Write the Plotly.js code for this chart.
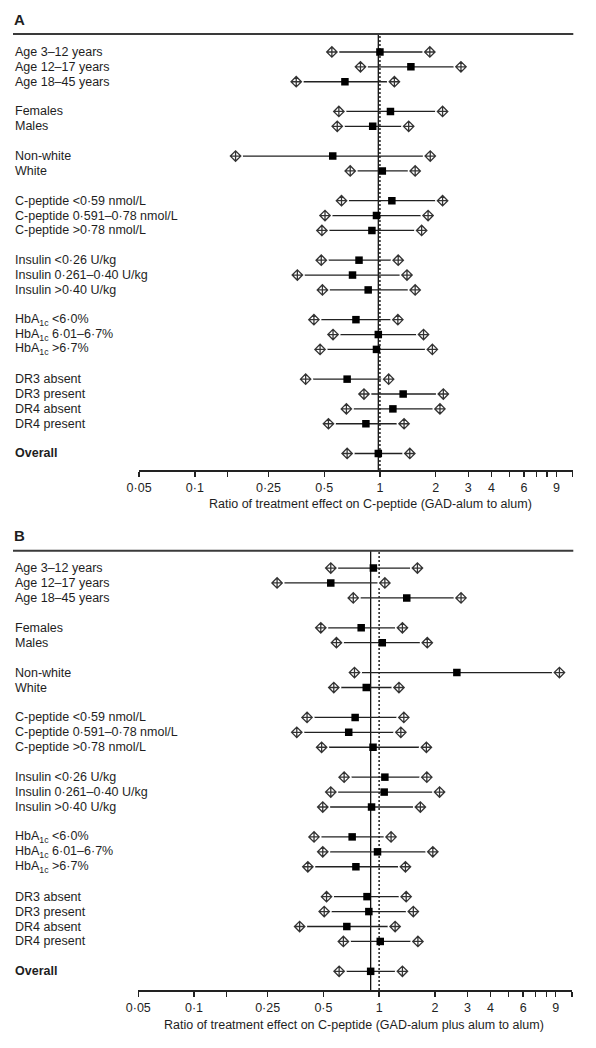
<!DOCTYPE html>
<html>
<head>
<meta charset="utf-8">
<script src="https://cdn.plot.ly/plotly-3.0.1.min.js"></script>
<style>
  html, body { margin: 0; padding: 0; background: #fff; }
  #chart { width: 596px; height: 1048px; }
</style>
</head>
<body>
<div id="chart"></div>
<script>
// ---------- data ----------
const ROW_LABELS = [
  'Age 3–12 years', 'Age 12–17 years', 'Age 18–45 years', '',
  'Females', 'Males', '',
  'Non-white', 'White', '',
  'C-peptide &lt;0·59 nmol/L', 'C-peptide 0·591–0·78 nmol/L', 'C-peptide &gt;0·78 nmol/L', '',
  'Insulin &lt;0·26 U/kg', 'Insulin 0·261–0·40 U/kg', 'Insulin &gt;0·40 U/kg', '',
  'HbA<sub>1c</sub> &lt;6·0%', 'HbA<sub>1c</sub> 6·01–6·7%', 'HbA<sub>1c</sub> &gt;6·7%', '',
  'DR3 absent', 'DR3 present', 'DR4 absent', 'DR4 present', '',
  '<b>Overall</b>'
];

// Panel A: GAD-alum vs alum
const A_EST = [1.00, 1.47, 0.647, null, 1.14, 0.914, null, 0.556, 1.03, null,
  1.16, 0.958, 0.905, null, 0.771, 0.711, 0.864, null, 0.742, 0.98, 0.958, null,
  0.665, 1.335, 1.175, 0.84, null, 0.98];
const A_LO = [0.55, 0.785, 0.353, null, 0.60, 0.588, null, 0.166, 0.691, null,
  0.62, 0.505, 0.486, null, 0.482, 0.358, 0.489, null, 0.44, 0.558, 0.475, null,
  0.397, 0.82, 0.659, 0.527, null, 0.665];
const A_HI = [1.86, 2.74, 1.197, null, 2.18, 1.43, null, 1.87, 1.55, null,
  2.18, 1.82, 1.68, null, 1.255, 1.40, 1.55, null, 1.25, 1.72, 1.92, null,
  1.115, 2.20, 2.11, 1.35, null, 1.45];

// Panel B: GAD-alum plus alum vs alum
const B_EST = [0.931, 0.548, 1.41, null, 0.80, 1.04, null, 2.63, 0.852, null,
  0.742, 0.685, 0.927, null, 1.074, 1.065, 0.91, null, 0.715, 0.98, 0.749, null,
  0.86, 0.88, 0.669, 1.014, null, 0.90];
const B_LO = [0.548, 0.281, 0.725, null, 0.484, 0.588, null, 0.736, 0.569, null,
  0.408, 0.359, 0.489, null, 0.647, 0.548, 0.496, null, 0.445, 0.496, 0.412, null,
  0.52, 0.505, 0.372, 0.641, null, 0.608];
const B_HI = [1.61, 1.074, 2.77, null, 1.336, 1.82, null, 9.42, 1.28, null,
  1.36, 1.31, 1.80, null, 1.81, 2.12, 1.67, null, 1.16, 1.95, 1.387, null,
  1.40, 1.53, 1.22, 1.62, null, 1.336];

const TICK_VALS = [0.05, 0.1, 0.25, 0.5, 1, 2, 3, 4, 6, 9];
const TICK_TEXT = ['0·05', '0·1', '0·25', '0·5', '1', '2', '3', '4', '6', '9'];
const MINOR_TICK_VALS = [0.15, 5, 7, 8, 11];
const NULL_RATIO = 1;

const TITLE_A = 'Ratio of treatment effect on C-peptide (GAD-alum to alum)';
const TITLE_B = 'Ratio of treatment effect on C-peptide (GAD-alum plus alum to alum)';

// ---------- styling / layout ----------
const W = 596, H = 1048;
const FONT = '"Liberation Sans Narrow", "Arial Narrow", "Liberation Sans", Arial, sans-serif';
const TXT = '#1e1e1e';
const px = v => v / W;
const py = v => 1 - v / H;

function panel(est, lo, hi, xa, ya) {
  const lx = [], ly = [], ex = [], ey = [], sx = [], sy = [];
  est.forEach((v, i) => {
    if (v == null) return;
    lx.push(lo[i], hi[i], null); ly.push(i, i, null);
    ex.push(lo[i], hi[i]); ey.push(i, i);
    sx.push(v); sy.push(i);
  });
  return [
    { type: 'scatter', mode: 'lines', x: lx, y: ly, xaxis: xa, yaxis: ya,
      line: { color: '#222', width: 1.3 }, hoverinfo: 'skip', showlegend: false },
    { type: 'scatter', mode: 'markers', x: ex, y: ey, xaxis: xa, yaxis: ya,
      marker: { symbol: 'circle', size: 15, color: '#fff', line: { width: 0 } },
      hoverinfo: 'skip', showlegend: false },
    { type: 'scatter', mode: 'markers', x: ex, y: ey, xaxis: xa, yaxis: ya,
      marker: { symbol: 'diamond-cross-open', size: 8, color: '#333', line: { width: 1.3, color: '#333' } },
      showlegend: false },
    { type: 'scatter', mode: 'markers', x: sx, y: sy, xaxis: xa, yaxis: ya,
      marker: { symbol: 'square', size: 7.5, color: '#000', line: { width: 0 } },
      showlegend: false }
  ];
}

const data = [].concat(
  panel(A_EST, A_LO, A_HI, 'x', 'y'),
  panel(B_EST, B_LO, B_HI, 'x2', 'y2')
);

function xaxis(anchor, domain) {
  return {
    type: 'log', anchor: anchor, domain: domain,
    range: [Math.log10(0.05), Math.log10(11)],
    tickmode: 'array', tickvals: TICK_VALS, ticktext: TICK_TEXT,
    ticks: 'outside', ticklen: 5, tickwidth: 1.4, tickcolor: '#222',
    minor: { tickmode: 'array', tickvals: MINOR_TICK_VALS, ticks: 'outside',
             ticklen: 5, tickwidth: 1.4, tickcolor: '#222', showgrid: false },
    showline: true, linewidth: 2, linecolor: '#222',
    showgrid: false, zeroline: false, fixedrange: true,
    tickfont: { family: FONT, size: 12.5, color: TXT }
  };
}
function yaxis(anchor, domain, range) {
  return {
    anchor: anchor, domain: domain, range: range,
    showticklabels: false, showgrid: false, zeroline: false, showline: false,
    ticks: '', fixedrange: true
  };
}

const XDOM_A = [px(139.1), px(572.7)];
const XDOM_B = [px(138.3), px(571.9)];
const YDOM_A = [py(470), py(34)];
const YDOM_B = [py(990), py(550.7)];

const annotations = [];
ROW_LABELS.forEach((t, i) => {
  if (!t) return;
  ['y', 'y2'].forEach(yr => annotations.push({
    text: t, xref: 'paper', x: px(13), xanchor: 'left',
    yref: yr, y: i, yanchor: 'middle', showarrow: false,
    font: { family: FONT, size: 12.5, color: TXT }
  }));
});
annotations.push(
  { text: '<b>A</b>', xref: 'paper', yref: 'paper', x: px(12), y: py(19), xanchor: 'left', yanchor: 'middle',
    showarrow: false, font: { family: FONT, size: 15, color: TXT } },
  { text: '<b>B</b>', xref: 'paper', yref: 'paper', x: px(12), y: py(535), xanchor: 'left', yanchor: 'middle',
    showarrow: false, font: { family: FONT, size: 15, color: TXT } },
  { text: TITLE_A, xref: 'paper', yref: 'paper', x: px(370.4), y: py(504), xanchor: 'center', yanchor: 'middle',
    showarrow: false, font: { family: FONT, size: 12.5, color: TXT } },
  { text: TITLE_B, xref: 'paper', yref: 'paper', x: px(353.6), y: py(1024.5), xanchor: 'center', yanchor: 'middle',
    showarrow: false, font: { family: FONT, size: 12.5, color: TXT } }
);

const shapes = [
  // top rules
  { type: 'line', xref: 'paper', yref: 'paper', x0: px(13), x1: px(573.3), y0: YDOM_A[1], y1: YDOM_A[1],
    line: { color: '#3a3a3a', width: 2 } },
  { type: 'line', xref: 'paper', yref: 'paper', x0: px(13), x1: px(573.3), y0: YDOM_B[1], y1: YDOM_B[1],
    line: { color: '#3a3a3a', width: 2 } },
  // overall estimate lines (solid) and no-effect lines (dotted)
  { type: 'line', xref: 'x', yref: 'y domain', x0: A_EST[A_EST.length - 1], x1: A_EST[A_EST.length - 1], y0: 0, y1: 1,
    layer: 'below', line: { color: '#111', width: 1.3 } },
  { type: 'line', xref: 'x', yref: 'y domain', x0: NULL_RATIO, x1: NULL_RATIO, y0: 0, y1: 1,
    layer: 'below', line: { color: '#222', width: 1.5, dash: '2px,2px' } },
  { type: 'line', xref: 'x2', yref: 'y2 domain', x0: B_EST[B_EST.length - 1], x1: B_EST[B_EST.length - 1], y0: 0, y1: 1,
    layer: 'below', line: { color: '#111', width: 1.3 } },
  { type: 'line', xref: 'x2', yref: 'y2 domain', x0: NULL_RATIO, x1: NULL_RATIO, y0: 0, y1: 1,
    layer: 'below', line: { color: '#222', width: 1.5, dash: '2px,2px' } }
];

const layout = {
  width: W, height: H,
  margin: { l: 0, r: 0, t: 0, b: 0 },
  paper_bgcolor: '#fff', plot_bgcolor: 'rgba(0,0,0,0)',
  showlegend: false,
  font: { family: FONT, color: TXT },
  xaxis: xaxis('y', XDOM_A),
  yaxis: yaxis('x', YDOM_A, [28.11, -1.21]),
  xaxis2: xaxis('y2', XDOM_B),
  yaxis2: yaxis('x2', YDOM_B, [28.25, -1.16]),
  annotations: annotations,
  shapes: shapes
};

Plotly.newPlot('chart', data, layout, { displayModeBar: false, staticPlot: true });
</script>
</body>
</html>
